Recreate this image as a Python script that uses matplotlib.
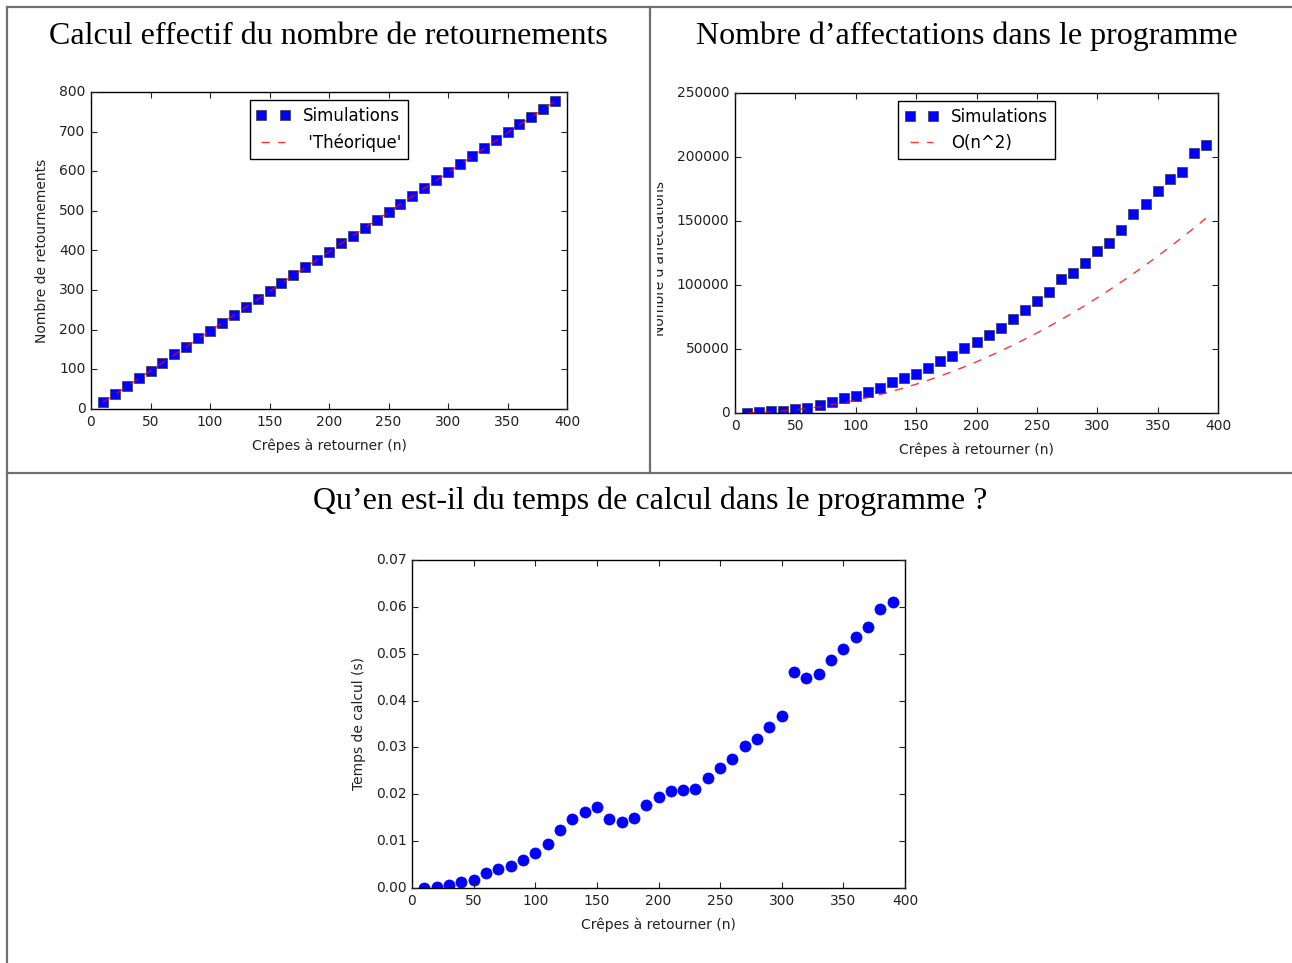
import matplotlib
matplotlib.use("Agg")
import matplotlib.pyplot as plt
from matplotlib.lines import Line2D
from matplotlib.transforms import Bbox

# ---------------- data ----------------
n_values = [10, 20, 30, 40, 50, 60, 70, 80, 90, 100, 110, 120, 130, 140, 150,
            160, 170, 180, 190, 200, 210, 220, 230, 240, 250, 260, 270, 280,
            290, 300, 310, 320, 330, 340, 350, 360, 370, 380, 390]

retournements_sim = [17, 38, 57, 78, 97, 117, 138, 157, 178, 197, 218, 236, 257,
                     278, 297, 318, 337, 358, 376, 397, 418, 437, 458, 477, 498,
                     518, 538, 558, 578, 598, 618, 638, 658, 678, 698, 718, 738,
                     757, 778]
retournements_theo = [17, 37, 57, 77, 97, 117, 137, 157, 177, 197, 217, 237, 257,
                      277, 297, 317, 337, 357, 377, 397, 417, 437, 457, 477, 497,
                      517, 537, 557, 577, 597, 617, 637, 657, 677, 697, 717, 737,
                      757, 777]

affectations_sim = [200, 800, 1200, 1800, 2900, 4200, 6500, 8600, 12000, 13000,
                    16400, 19500, 24100, 27500, 30600, 35300, 40700, 44400, 51100,
                    55300, 61000, 66700, 73500, 80500, 87200, 94800, 104900,
                    109500, 117300, 126200, 132900, 143000, 155800, 163500,
                    173700, 182800, 188200, 202800, 209500]
affectations_theo = [100, 400, 900, 1600, 2500, 3600, 4900, 6400, 8100, 10000,
                     12100, 14400, 16900, 19600, 22500, 25600, 28900, 32400,
                     36100, 40000, 44100, 48400, 52900, 57600, 62500, 67600,
                     72900, 78400, 84100, 90000, 96100, 102400, 108900, 115600,
                     122500, 129600, 136900, 144400, 152100]

temps_calcul = [0.0001, 0.0003, 0.0006, 0.0013, 0.0018, 0.0031, 0.0040, 0.0046,
                0.0059, 0.0074, 0.0093, 0.0124, 0.0147, 0.0162, 0.0172, 0.0147,
                0.0140, 0.0150, 0.0178, 0.0194, 0.0206, 0.0209, 0.0212, 0.0235,
                0.0256, 0.0276, 0.0303, 0.0319, 0.0344, 0.0367, 0.0460, 0.0448,
                0.0457, 0.0486, 0.0511, 0.0535, 0.0557, 0.0595, 0.0611]

titles = ["Calcul effectif du nombre de retournements",
          "Nombre d\u2019affectations dans le programme",
          "Qu\u2019en est-il du temps de calcul dans le programme ?"]
xlabel = "Cr\u00eapes \u00e0 retourner (n)"
ylabels = ["Nombre de retournements", "Nombre d'affectations", "Temps de calcul (s)"]
legend1 = ["Simulations", " 'Th\u00e9orique'"]
legend2 = ["Simulations", "O(n^2)"]

# ---------------- style ----------------
plt.style.use("classic")
plt.rcParams.update({
    "figure.facecolor": "white",
    "savefig.facecolor": "white",
    "font.family": ["DejaVu Sans"],
    "xtick.labelsize": 10,
    "ytick.labelsize": 10,
    "xtick.color": "#222222",
    "ytick.color": "#222222",
    "axes.labelsize": 10,
    "axes.labelcolor": "#222222",
    "legend.fontsize": 12,
    "axes.linewidth": 1.0,
})

W, H = 1292, 963
fig = plt.figure(figsize=(W / 100, H / 100), dpi=100)


def rect(l, t, r, b):
    return [l / W, 1 - b / H, (r - l) / W, (b - t) / H]


def style_axes(ax):
    ax.tick_params(direction="in", length=4, width=0.8, pad=4,
                   top=True, right=True)
    ax.minorticks_off()


# Panel 1
ax1 = fig.add_axes(rect(91, 92, 567, 409))
ax1.plot(n_values, retournements_sim, "bs", markersize=7.5, mec="#444466", mew=0.6,
         label=legend1[0])
ax1.plot(n_values, retournements_theo, "r--", lw=1, alpha=0.8, label=legend1[1])
ax1.set_xlim(0, 400)
ax1.set_ylim(0, 800)
ax1.set_xticks(range(0, 401, 50))
ax1.set_yticks(range(0, 801, 100))
ax1.set_xlabel(xlabel, labelpad=7)
ax1.set_ylabel(ylabels[0], labelpad=7)
style_axes(ax1)
ax1.legend(loc="upper center", numpoints=2, handlelength=2.0, borderpad=0.4,
           labelspacing=0.5, handletextpad=0.8, borderaxespad=0.5)

# Panel 2
ax2 = fig.add_axes(rect(735, 93, 1218, 413))
ax2.plot(n_values, affectations_sim, "bs", markersize=7.5, mec="#444466", mew=0.6,
         label=legend2[0])
ax2.plot(n_values, affectations_theo, "r--", lw=1, alpha=0.8, label=legend2[1])
ax2.set_xlim(0, 400)
ax2.set_ylim(0, 250000)
ax2.set_xticks(range(0, 401, 50))
ax2.set_yticks(range(0, 250001, 50000))
ax2.set_xlabel(xlabel, labelpad=7)
style_axes(ax2)
ax2.legend(loc="upper center", numpoints=2, handlelength=2.0, borderpad=0.4,
           labelspacing=0.5, handletextpad=0.8, borderaxespad=0.5)
# clipped y label (cut by the table cell)
yl2 = fig.text(659.5 / W, 1 - 259 / H, ylabels[1], rotation=90, ha="center",
               va="center", fontsize=10, color="#222222")
yl2.set_clip_on(True)
yl2.set_clip_box(Bbox.from_extents(657, 0, W, H))

# Panel 3
ax3 = fig.add_axes(rect(412, 560, 905, 888))
ax3.plot(n_values, temps_calcul, "bo", markersize=8, mec="blue", mew=0.5)
ax3.set_xlim(0, 400)
ax3.set_ylim(0, 0.07)
ax3.set_xticks(range(0, 401, 50))
ax3.set_yticks([0.0, 0.01, 0.02, 0.03, 0.04, 0.05, 0.06, 0.07])
ax3.set_yticklabels(["0.00", "0.01", "0.02", "0.03", "0.04", "0.05", "0.06", "0.07"])
ax3.set_xlabel(xlabel, labelpad=7)
ax3.set_ylabel(ylabels[2], labelpad=7)
style_axes(ax3)

# Titles (serif)
serif = ["Liberation Serif", "DejaVu Serif"]
fig.text(328 / W, 1 - 44 / H, titles[0], family=serif, fontsize=23,
         ha="center", va="baseline")
fig.text(967 / W, 1 - 44 / H, titles[1], family=serif, fontsize=23,
         ha="center", va="baseline")
fig.text(650 / W, 1 - 509 / H, titles[2], family=serif, fontsize=23,
         ha="center", va="baseline")

# Table borders
gray = "#707070"
def hline(y, x0, x1):
    fig.add_artist(Line2D([x0 / W, x1 / W], [1 - y / H, 1 - y / H],
                          color=gray, lw=1.6, transform=fig.transFigure))
def vline(x, y0, y1):
    fig.add_artist(Line2D([x / W, x / W], [1 - y0 / H, 1 - y1 / H],
                          color=gray, lw=1.6, transform=fig.transFigure))

hline(7, 7, W)
hline(473, 7, W)
vline(7, 7, H)
vline(650, 7, 473)

fig.savefig("out.png", dpi=100)
